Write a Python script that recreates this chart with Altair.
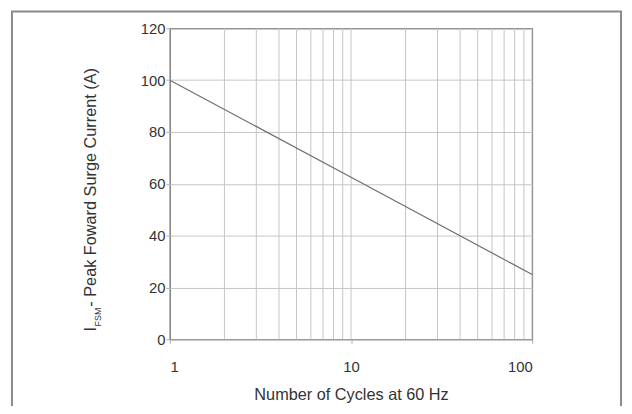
import altair as alt
import pandas as pd

# Data
cycles = [1, 10, 100]
surge_current = [100, 62.5, 25]

x_grid = [1, 2, 3, 4, 5, 6, 7, 8, 9, 10, 20, 30, 40, 50, 60, 70, 80, 90, 100]
x_labels = [1, 10, 100]
y_ticks = [0, 20, 40, 60, 80, 100, 120]

FONT = "Liberation Sans"
W, H = 367, 315

line_df = pd.DataFrame({"x": cycles, "current": surge_current})
grid_df = pd.DataFrame({"x": x_grid})

xscale = alt.Scale(type="log", domain=[1, 100])
yscale = alt.Scale(domain=[0, 120])

x_axis = alt.Axis(
    values=x_labels,
    format="d",
    grid=False,
    title="Number of Cycles at 60 Hz",
    titleFont=FONT,
    titleFontSize=16.5,
    titleFontWeight="normal",
    titleColor="#333333",
    titlePadding=12,
    labelFont=FONT,
    labelFontSize=15,
    labelColor="#333333",
    labelPadding=17,
    tickSize=4,
    tickColor="#aaaaaa",
    domain=False,
)

frame = alt.Chart(pd.DataFrame({"a": [0]})).mark_rect(
    fill=None, stroke="#8a8a8a", strokeWidth=2, clip=False
).encode(
    x=alt.value(-160), x2=alt.value(457), y=alt.value(-17), y2=alt.value(420)
)

vgrid = alt.Chart(grid_df).mark_rule(color="#c4c4c4", strokeWidth=1).encode(
    x=alt.X("x:Q", scale=xscale, axis=x_axis)
)

line = alt.Chart(line_df).mark_line(color="#6e6e6e", strokeWidth=1.2).encode(
    x=alt.X("x:Q", scale=xscale, axis=x_axis),
    y=alt.Y(
        "current:Q",
        scale=yscale,
        axis=alt.Axis(
            values=y_ticks,
            grid=True,
            gridColor="#c4c4c4",
            title=None,
            labelFont=FONT,
            labelFontSize=15,
            labelColor="#333333",
            labelPadding=1,
            tickSize=4,
            tickColor="#aaaaaa",
            domain=False,
        ),
    ),
)

title_i = alt.Chart(pd.DataFrame({"t": ["I"]})).mark_text(
    angle=270, align="left", baseline="alphabetic", font=FONT, fontSize=16.5,
    color="#333333", clip=False
).encode(text="t:N", x=alt.value(-75), y=alt.value(307))

title_sub = alt.Chart(pd.DataFrame({"t": ["FSM"]})).mark_text(
    angle=270, align="left", baseline="alphabetic", font=FONT, fontSize=9,
    color="#333333", clip=False
).encode(text="t:N", x=alt.value(-70), y=alt.value(302))

title_main = alt.Chart(pd.DataFrame({"t": [" - Peak Foward Surge Current (A)"]})).mark_text(
    angle=270, align="left", baseline="alphabetic", font=FONT, fontSize=16.5,
    color="#333333", clip=False
).encode(text="t:N", x=alt.value(-75), y=alt.value(282))

chart = alt.layer(frame, vgrid, line, title_i, title_sub, title_main).properties(
    width=W,
    height=H,
    autosize=alt.AutoSizeParams(type="none"),
    padding={"left": 164, "top": 18, "right": 93, "bottom": 65},
    background="white",
).configure_view(stroke="#333333", strokeWidth=1.2)

chart.save("out.html", embed_options={"renderer": "svg", "actions": False})
